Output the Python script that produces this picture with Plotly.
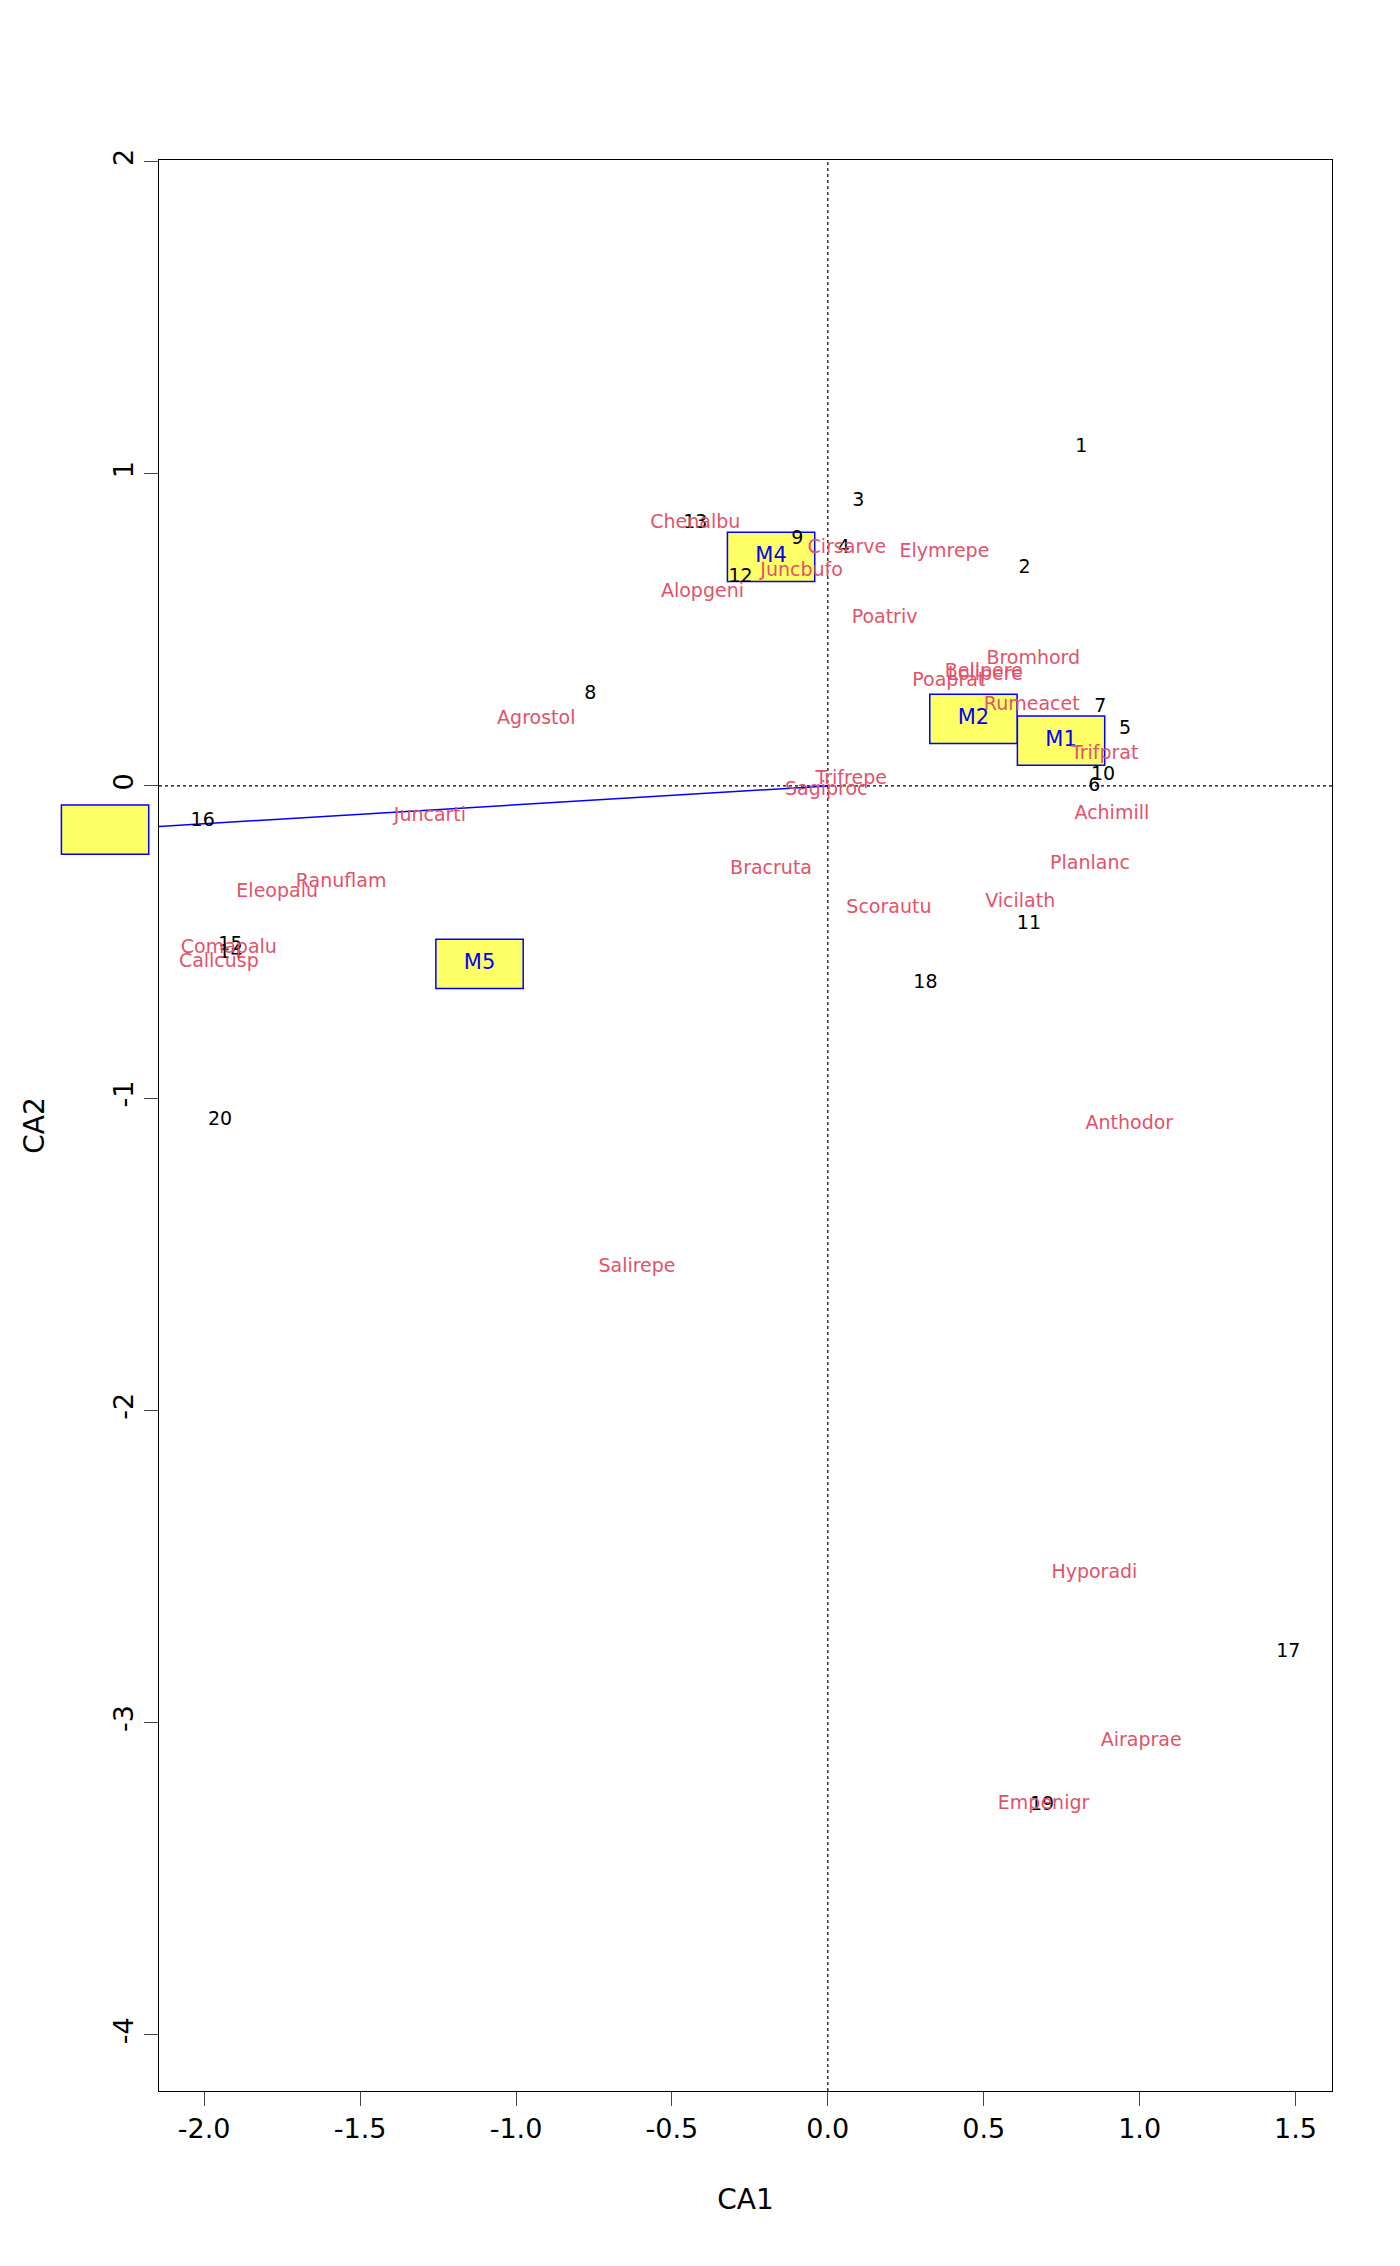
import plotly.graph_objects as go

# site scores (black numbers)
site_labels = [str(i) for i in range(1, 21)]
site_x = [0.813, 0.631, 0.098, 0.051, 0.953, 0.855, 0.874, -0.762, -0.098, 0.883,
          0.645, -0.280, -0.425, -1.916, -1.916, -2.005, 1.477, 0.313, 0.687, -1.949]
site_y = [1.084, 0.696, 0.911, 0.762, 0.182, 0.0, 0.252, 0.294, 0.790, 0.033,
          -0.444, 0.668, 0.841, -0.537, -0.509, -0.112, -2.776, -0.631, -3.266, -1.070]

# species scores (red names)
spec_labels = ["Chenalbu", "Cirsarve", "Elymrepe", "Juncbufo", "Alopgeni", "Poatriv",
               "Bromhord", "Bellpere", "Lolipere", "Poaprat", "Rumeacet", "Trifprat",
               "Agrostol", "Trifrepe", "Sagiproc", "Achimill", "Juncarti", "Planlanc",
               "Bracruta", "Ranuflam", "Eleopalu", "Vicilath", "Scorautu", "Comapalu",
               "Callcusp", "Anthodor", "Salirepe", "Hyporadi", "Airaprae", "Empenigr"]
spec_x = [-0.425, 0.061, 0.374, -0.084, -0.402, 0.182, 0.659, 0.500, 0.505, 0.388,
          0.654, 0.888, -0.935, 0.075, -0.005, 0.911, -1.276, 0.841, -0.182, -1.561,
          -1.766, 0.617, 0.196, -1.921, -1.953, 0.967, -0.612, 0.855, 1.005, 0.692]
spec_y = [0.841, 0.762, 0.748, 0.687, 0.621, 0.537, 0.407, 0.364, 0.356, 0.336,
          0.257, 0.103, 0.215, 0.023, -0.014, -0.089, -0.098, -0.252, -0.266, -0.308,
          -0.341, -0.374, -0.393, -0.519, -0.565, -1.084, -1.542, -2.523, -3.061, -3.262]

# factor centroids
cent_labels = ["A1", "M1", "M2", "M4", "M5"]
cent_x = [-2.318, 0.748, 0.467, -0.182, -1.117]
cent_y = [-0.140, 0.145, 0.215, 0.734, -0.570]

xr = [-2.145, 1.617]
yr = [-4.18, 2.005]
red = "#DF536B"
fig = go.Figure()
fig.add_trace(go.Scatter(x=[0, cent_x[0]], y=[0, cent_y[0]], mode="lines",
                         line=dict(color="blue", width=1.5)))

# centroid boxes drawn below the text, in paper coords so A1 outside the axes still shows
bw, bh = 0.14, 0.079
for x, y in zip(cent_x, cent_y):
    px = (x - xr[0]) / (xr[1] - xr[0])
    py = (y - yr[0]) / (yr[1] - yr[0])
    dx = bw / (xr[1] - xr[0])
    dy = bh / (yr[1] - yr[0])
    fig.add_shape(type="rect", xref="paper", yref="paper", x0=px - dx, x1=px + dx,
                  y0=py - dy, y1=py + dy, fillcolor="#FFFF66",
                  line=dict(color="blue", width=1.5), layer="below")

fig.add_trace(go.Scatter(x=cent_x, y=cent_y, text=cent_labels, mode="text", cliponaxis=False,
                         textfont=dict(color="blue", size=21)))
fig.add_trace(go.Scatter(x=site_x, y=site_y, text=site_labels, mode="text",
                         textfont=dict(color="black", size=19)))
fig.add_trace(go.Scatter(x=spec_x, y=spec_y, text=spec_labels, mode="text",
                         textfont=dict(color=red, size=19)))

for s in [dict(x0=0, x1=0, y0=yr[0], y1=yr[1]), dict(x0=xr[0], x1=xr[1], y0=0, y1=0)]:
    fig.add_shape(type="line", xref="x", yref="y", layer="below",
                  line=dict(color="black", width=1.2, dash="dot"), **s)

fig.update_layout(
    width=1400, height=2266, showlegend=False,
    plot_bgcolor="white", paper_bgcolor="white",
    margin=dict(l=151, r=76, t=152, b=183),
    font=dict(family="DejaVu Sans", color="black"),
)
fig.update_xaxes(range=xr, tickvals=[-2, -1.5, -1, -0.5, 0, 0.5, 1, 1.5],
                 ticktext=["-2.0", "-1.5", "-1.0", "-0.5", "0.0", "0.5", "1.0", "1.5"],
                 ticks="outside", ticklen=14, showgrid=False, zeroline=False,
                 showline=True, linecolor="black", mirror=True, tickfont=dict(size=27),
                 title=dict(text="CA1", font=dict(size=28), standoff=45))
fig.update_yaxes(range=yr, tickvals=[-4, -3, -2, -1, 0, 1, 2],
                 ticktext=["-4", "-3", "-2", "-1", "0", "1", "2"], tickangle=-90,
                 ticks="outside", ticklen=14, showgrid=False, zeroline=False,
                 showline=True, linecolor="black", mirror=True, tickfont=dict(size=27),
                 title=dict(text="CA2", font=dict(size=28), standoff=55))
fig.write_html("out.html")
